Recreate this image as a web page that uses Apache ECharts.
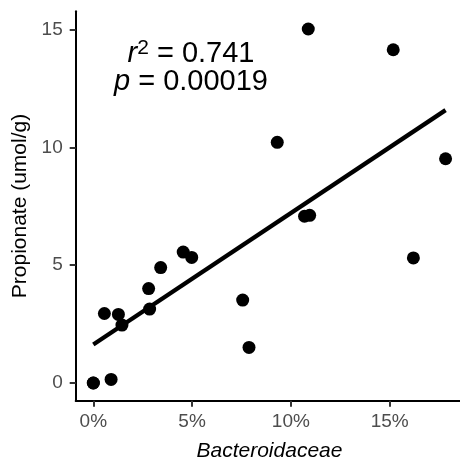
<!DOCTYPE html>
<html>
<head>
<meta charset="utf-8">
<script src="https://cdn.jsdelivr.net/npm/echarts@6/dist/echarts.min.js"></script>
<style>
  html, body { margin: 0; padding: 0; background: #ffffff; }
  #chart { width: 460px; height: 463px; }
</style>
</head>
<body>
<div id="chart"></div>
<script>
// Bacteroidaceae relative abundance (%) per sample
const bacteroidaceaePct = [0, 0, 0.9, 0.56, 1.27, 1.45, 2.85, 2.8, 3.41, 4.55, 4.98, 7.56, 7.88, 9.31, 10.69, 10.95, 10.88, 15.18, 16.2, 17.83];
// Propionate concentration (umol/g) per sample
const propionate = [0, 0, 0.15, 2.95, 2.91, 2.46, 3.14, 4.01, 4.9, 5.56, 5.33, 3.52, 1.51, 10.22, 7.08, 7.12, 15.03, 14.15, 5.31, 9.52];

const xTicks = [0, 5, 10, 15];
const yTicks = [0, 5, 10, 15];
const statR2 = '0.741';
const statP = '0.00019';

// ordinary least-squares fit of propionate on abundance
function linearFit(xs, ys) {
  const n = xs.length;
  const mx = xs.reduce((a, b) => a + b, 0) / n;
  const my = ys.reduce((a, b) => a + b, 0) / n;
  let sxy = 0, sxx = 0;
  for (let i = 0; i < n; i++) {
    sxy += (xs[i] - mx) * (ys[i] - my);
    sxx += (xs[i] - mx) * (xs[i] - mx);
  }
  const slope = sxy / sxx;
  return { slope, intercept: my - slope * mx };
}
const fit = linearFit(bacteroidaceaePct, propionate);
const xLo = Math.min(...bacteroidaceaePct);
const xHi = Math.max(...bacteroidaceaePct);
const fitLine = [[xLo, fit.intercept + fit.slope * xLo], [xHi, fit.intercept + fit.slope * xHi]];

// axis padding like a 5% expansion of the data range
const xPad = (xHi - xLo) * 0.05;
const yLo = Math.min(...propionate), yHi = Math.max(...propionate);
const yPad = (yHi - yLo) * 0.05;

const FONT = '"Liberation Sans", Arial, sans-serif';
const chart = echarts.init(document.getElementById('chart'), null, { renderer: 'canvas' });

chart.setOption({
  backgroundColor: '#ffffff',
  animation: false,
  grid: { left: 75.7, top: 11.3, width: 387.5, height: 389.4, outerBoundsMode: 'none', containLabel: false },
  xAxis: {
    type: 'value',
    min: xLo - xPad,
    max: xHi + xPad,
    name: 'Bacteroidaceae',
    nameLocation: 'middle',
    nameGap: 40,
    nameTextStyle: { fontFamily: FONT, fontSize: 21, fontStyle: 'italic', color: '#000000' },
    axisLine: { show: true, onZero: false, lineStyle: { color: '#000000', width: 2 } },
    axisTick: { show: true, length: 6, customValues: xTicks, lineStyle: { color: '#333333', width: 2 } },
    axisLabel: { customValues: xTicks, formatter: v => v + '%', margin: 12, fontFamily: FONT, fontSize: 19, color: '#4D4D4D' },
    splitLine: { show: false }
  },
  yAxis: {
    type: 'value',
    min: yLo - yPad,
    max: yHi + yPad,
    name: 'Propionate (umol/g)',
    nameLocation: 'middle',
    nameGap: 45,
    nameTextStyle: { fontFamily: FONT, fontSize: 21, color: '#000000' },
    axisLine: { show: true, onZero: false, lineStyle: { color: '#000000', width: 2 } },
    axisTick: { show: true, length: 6, customValues: yTicks, lineStyle: { color: '#333333', width: 2 } },
    axisLabel: { customValues: yTicks, margin: 13, fontFamily: FONT, fontSize: 19, color: '#4D4D4D' },
    splitLine: { show: false }
  },
  series: [
    {
      type: 'scatter',
      data: bacteroidaceaePct.map((x, i) => [x, propionate[i]]),
      symbol: 'circle',
      symbolSize: 13,
      itemStyle: { color: '#000000', opacity: 1 },
      z: 2
    },
    {
      type: 'line',
      data: fitLine,
      showSymbol: false,
      lineStyle: { color: '#000000', width: 4.3, cap: 'butt' },
      z: 3
    }
  ],
  graphic: [
    {
      type: 'text',
      x: 191, y: 68,
      style: {
        text: '{i|r}{s|2}{n| = ' + statR2 + '}',
        align: 'center',
        verticalAlign: 'bottom',
        rich: {
          i: { fontFamily: FONT, fontSize: 29, fontStyle: 'italic', fill: '#000000', verticalAlign: 'bottom', lineHeight: 30 },
          s: { fontFamily: FONT, fontSize: 21, fill: '#000000', verticalAlign: 'top', lineHeight: 30 },
          n: { fontFamily: FONT, fontSize: 29, fill: '#000000', verticalAlign: 'bottom', lineHeight: 30 }
        }
      }
    },
    {
      type: 'text',
      x: 191, y: 97,
      style: {
        text: '{i|p}{n| = ' + statP + '}',
        align: 'center',
        verticalAlign: 'bottom',
        rich: {
          i: { fontFamily: FONT, fontSize: 29, fontStyle: 'italic', fill: '#000000', lineHeight: 30 },
          n: { fontFamily: FONT, fontSize: 29, fill: '#000000', lineHeight: 30 }
        }
      }
    }
  ]
});
</script>
</body>
</html>
